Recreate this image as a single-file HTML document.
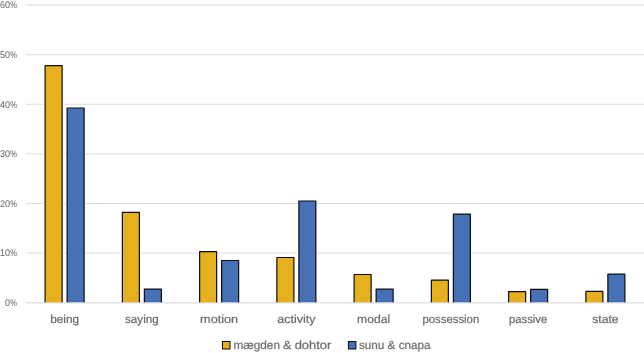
<!DOCTYPE html>
<html><head><meta charset="utf-8"><style>
html,body{margin:0;padding:0;background:#fff;width:644px;height:353px;overflow:hidden}
svg{display:block;will-change:transform;text-rendering:geometricPrecision;}
text{stroke:#6a6a6a;stroke-width:0.2px;font-family:"Liberation Sans",sans-serif}
</style></head><body>
<svg width="644" height="353" viewBox="0 0 644 353">
<rect width="644" height="353" fill="#fff"/>
<rect x="26" y="4.50" width="618" height="1" fill="#dcdcdc"/>
<rect x="26" y="54.25" width="618" height="1" fill="#dcdcdc"/>
<rect x="26" y="103.80" width="618" height="1" fill="#dcdcdc"/>
<rect x="26" y="153.45" width="618" height="1" fill="#dcdcdc"/>
<rect x="26" y="203.00" width="618" height="1" fill="#dcdcdc"/>
<rect x="26" y="252.60" width="618" height="1" fill="#dcdcdc"/>
<rect x="26" y="302.30" width="618" height="1" fill="#dcdcdc"/>
<text x="9.90" y="8.20" text-anchor="end" font-size="9.7" fill="#6a6a6a" style="stroke-width:0.05px" textLength="10.00" lengthAdjust="spacingAndGlyphs">60</text>
<text x="10.35" y="8.20" font-size="9.7" fill="#6a6a6a" style="stroke-width:0.05px" textLength="6.7" lengthAdjust="spacingAndGlyphs">%</text>
<text x="9.90" y="57.95" text-anchor="end" font-size="9.7" fill="#6a6a6a" style="stroke-width:0.05px" textLength="10.00" lengthAdjust="spacingAndGlyphs">50</text>
<text x="10.35" y="57.95" font-size="9.7" fill="#6a6a6a" style="stroke-width:0.05px" textLength="6.7" lengthAdjust="spacingAndGlyphs">%</text>
<text x="9.90" y="107.50" text-anchor="end" font-size="9.7" fill="#6a6a6a" style="stroke-width:0.05px" textLength="10.00" lengthAdjust="spacingAndGlyphs">40</text>
<text x="10.35" y="107.50" font-size="9.7" fill="#6a6a6a" style="stroke-width:0.05px" textLength="6.7" lengthAdjust="spacingAndGlyphs">%</text>
<text x="9.90" y="157.15" text-anchor="end" font-size="9.7" fill="#6a6a6a" style="stroke-width:0.05px" textLength="10.00" lengthAdjust="spacingAndGlyphs">30</text>
<text x="10.35" y="157.15" font-size="9.7" fill="#6a6a6a" style="stroke-width:0.05px" textLength="6.7" lengthAdjust="spacingAndGlyphs">%</text>
<text x="9.90" y="206.70" text-anchor="end" font-size="9.7" fill="#6a6a6a" style="stroke-width:0.05px" textLength="10.00" lengthAdjust="spacingAndGlyphs">20</text>
<text x="10.35" y="206.70" font-size="9.7" fill="#6a6a6a" style="stroke-width:0.05px" textLength="6.7" lengthAdjust="spacingAndGlyphs">%</text>
<text x="9.90" y="256.30" text-anchor="end" font-size="9.7" fill="#6a6a6a" style="stroke-width:0.05px" textLength="10.00" lengthAdjust="spacingAndGlyphs">10</text>
<text x="10.35" y="256.30" font-size="9.7" fill="#6a6a6a" style="stroke-width:0.05px" textLength="6.7" lengthAdjust="spacingAndGlyphs">%</text>
<text x="9.90" y="306.00" text-anchor="end" font-size="9.7" fill="#6a6a6a" style="stroke-width:0.05px" textLength="5.00" lengthAdjust="spacingAndGlyphs">0</text>
<text x="10.35" y="306.00" font-size="9.7" fill="#6a6a6a" style="stroke-width:0.05px" textLength="6.7" lengthAdjust="spacingAndGlyphs">%</text>
<rect x="43.52" y="64.10" width="20.20" height="237.70" fill="#fff"/><rect x="45.12" y="65.70" width="17.00" height="236.70" fill="#E6B01E"/><path d="M45.12 302.40V65.70H62.12V302.40" fill="none" stroke="#0d0d0d" stroke-width="1.2" stroke-linejoin="round"/>
<rect x="65.53" y="106.40" width="20.20" height="195.40" fill="#fff"/><rect x="67.12" y="108.00" width="17.00" height="194.40" fill="#4671B6"/><path d="M67.12 302.40V108.00H84.12V302.40" fill="none" stroke="#0d0d0d" stroke-width="1.2" stroke-linejoin="round"/>
<rect x="120.78" y="210.80" width="20.20" height="91.00" fill="#fff"/><rect x="122.38" y="212.40" width="17.00" height="90.00" fill="#E6B01E"/><path d="M122.38 302.40V212.40H139.38V302.40" fill="none" stroke="#0d0d0d" stroke-width="1.2" stroke-linejoin="round"/>
<rect x="142.78" y="287.50" width="20.20" height="14.30" fill="#fff"/><rect x="144.38" y="289.10" width="17.00" height="13.30" fill="#4671B6"/><path d="M144.38 302.40V289.10H161.38V302.40" fill="none" stroke="#0d0d0d" stroke-width="1.2" stroke-linejoin="round"/>
<rect x="198.03" y="250.10" width="20.20" height="51.70" fill="#fff"/><rect x="199.62" y="251.70" width="17.00" height="50.70" fill="#E6B01E"/><path d="M199.62 302.40V251.70H216.62V302.40" fill="none" stroke="#0d0d0d" stroke-width="1.2" stroke-linejoin="round"/>
<rect x="220.03" y="258.90" width="20.20" height="42.90" fill="#fff"/><rect x="221.62" y="260.50" width="17.00" height="41.90" fill="#4671B6"/><path d="M221.62 302.40V260.50H238.62V302.40" fill="none" stroke="#0d0d0d" stroke-width="1.2" stroke-linejoin="round"/>
<rect x="275.27" y="255.90" width="20.20" height="45.90" fill="#fff"/><rect x="276.88" y="257.50" width="17.00" height="44.90" fill="#E6B01E"/><path d="M276.88 302.40V257.50H293.88V302.40" fill="none" stroke="#0d0d0d" stroke-width="1.2" stroke-linejoin="round"/>
<rect x="297.27" y="199.40" width="20.20" height="102.40" fill="#fff"/><rect x="298.88" y="201.00" width="17.00" height="101.40" fill="#4671B6"/><path d="M298.88 302.40V201.00H315.88V302.40" fill="none" stroke="#0d0d0d" stroke-width="1.2" stroke-linejoin="round"/>
<rect x="352.52" y="272.90" width="20.20" height="28.90" fill="#fff"/><rect x="354.12" y="274.50" width="17.00" height="27.90" fill="#E6B01E"/><path d="M354.12 302.40V274.50H371.12V302.40" fill="none" stroke="#0d0d0d" stroke-width="1.2" stroke-linejoin="round"/>
<rect x="374.52" y="287.60" width="20.20" height="14.20" fill="#fff"/><rect x="376.12" y="289.20" width="17.00" height="13.20" fill="#4671B6"/><path d="M376.12 302.40V289.20H393.12V302.40" fill="none" stroke="#0d0d0d" stroke-width="1.2" stroke-linejoin="round"/>
<rect x="429.77" y="278.50" width="20.20" height="23.30" fill="#fff"/><rect x="431.38" y="280.10" width="17.00" height="22.30" fill="#E6B01E"/><path d="M431.38 302.40V280.10H448.38V302.40" fill="none" stroke="#0d0d0d" stroke-width="1.2" stroke-linejoin="round"/>
<rect x="451.77" y="212.60" width="20.20" height="89.20" fill="#fff"/><rect x="453.38" y="214.20" width="17.00" height="88.20" fill="#4671B6"/><path d="M453.38 302.40V214.20H470.38V302.40" fill="none" stroke="#0d0d0d" stroke-width="1.2" stroke-linejoin="round"/>
<rect x="507.02" y="290.00" width="20.20" height="11.80" fill="#fff"/><rect x="508.62" y="291.60" width="17.00" height="10.80" fill="#E6B01E"/><path d="M508.62 302.40V291.60H525.62V302.40" fill="none" stroke="#0d0d0d" stroke-width="1.2" stroke-linejoin="round"/>
<rect x="529.02" y="287.80" width="20.20" height="14.00" fill="#fff"/><rect x="530.62" y="289.40" width="17.00" height="13.00" fill="#4671B6"/><path d="M530.62 302.40V289.40H547.62V302.40" fill="none" stroke="#0d0d0d" stroke-width="1.2" stroke-linejoin="round"/>
<rect x="584.27" y="289.80" width="20.20" height="12.00" fill="#fff"/><rect x="585.88" y="291.40" width="17.00" height="11.00" fill="#E6B01E"/><path d="M585.88 302.40V291.40H602.88V302.40" fill="none" stroke="#0d0d0d" stroke-width="1.2" stroke-linejoin="round"/>
<rect x="606.27" y="272.60" width="20.20" height="29.20" fill="#fff"/><rect x="607.88" y="274.20" width="17.00" height="28.20" fill="#4671B6"/><path d="M607.88 302.40V274.20H624.88V302.40" fill="none" stroke="#0d0d0d" stroke-width="1.2" stroke-linejoin="round"/>
<rect x="26" y="302.30" width="618" height="1" fill="#dcdcdc" opacity="0.5"/>
<text x="64.62" y="323.4" text-anchor="middle" font-size="11.6" fill="#6a6a6a" textLength="28.9" lengthAdjust="spacingAndGlyphs">being</text>
<text x="141.88" y="323.4" text-anchor="middle" font-size="11.6" fill="#6a6a6a" textLength="33.7" lengthAdjust="spacingAndGlyphs">saying</text>
<text x="219.12" y="323.4" text-anchor="middle" font-size="11.6" fill="#6a6a6a" textLength="38.1" lengthAdjust="spacingAndGlyphs">motion</text>
<text x="296.38" y="323.4" text-anchor="middle" font-size="11.6" fill="#6a6a6a" textLength="38.3" lengthAdjust="spacingAndGlyphs">activity</text>
<text x="373.62" y="323.4" text-anchor="middle" font-size="11.6" fill="#6a6a6a" textLength="33.0" lengthAdjust="spacingAndGlyphs">modal</text>
<text x="450.88" y="323.4" text-anchor="middle" font-size="11.6" fill="#6a6a6a" textLength="56.7" lengthAdjust="spacingAndGlyphs">possession</text>
<text x="528.12" y="323.4" text-anchor="middle" font-size="11.6" fill="#6a6a6a" textLength="38.2" lengthAdjust="spacingAndGlyphs">passive</text>
<text x="605.38" y="323.4" text-anchor="middle" font-size="11.6" fill="#6a6a6a" textLength="26.4" lengthAdjust="spacingAndGlyphs">state</text>
<rect x="222.5" y="341.5" width="7.5" height="7.5" fill="#E6B01E" stroke="#0d0d0d" stroke-width="1"/>
<text x="233.4" y="348.75" font-size="11.7" fill="#6a6a6a" textLength="46.6" lengthAdjust="spacingAndGlyphs">mægden</text>
<text x="283.0" y="348.75" font-size="11.7" fill="#6a6a6a" textLength="8.4" lengthAdjust="spacingAndGlyphs">&amp;</text>
<text x="294.7" y="348.75" font-size="11.7" fill="#6a6a6a" textLength="36.6" lengthAdjust="spacingAndGlyphs">dohtor</text>
<rect x="348.4" y="341.5" width="7.5" height="7.5" fill="#4671B6" stroke="#0d0d0d" stroke-width="1"/>
<text x="359.0" y="348.75" font-size="11.7" fill="#6a6a6a" textLength="71.5" lengthAdjust="spacingAndGlyphs">sunu &amp; cnapa</text>
</svg>
</body></html>
